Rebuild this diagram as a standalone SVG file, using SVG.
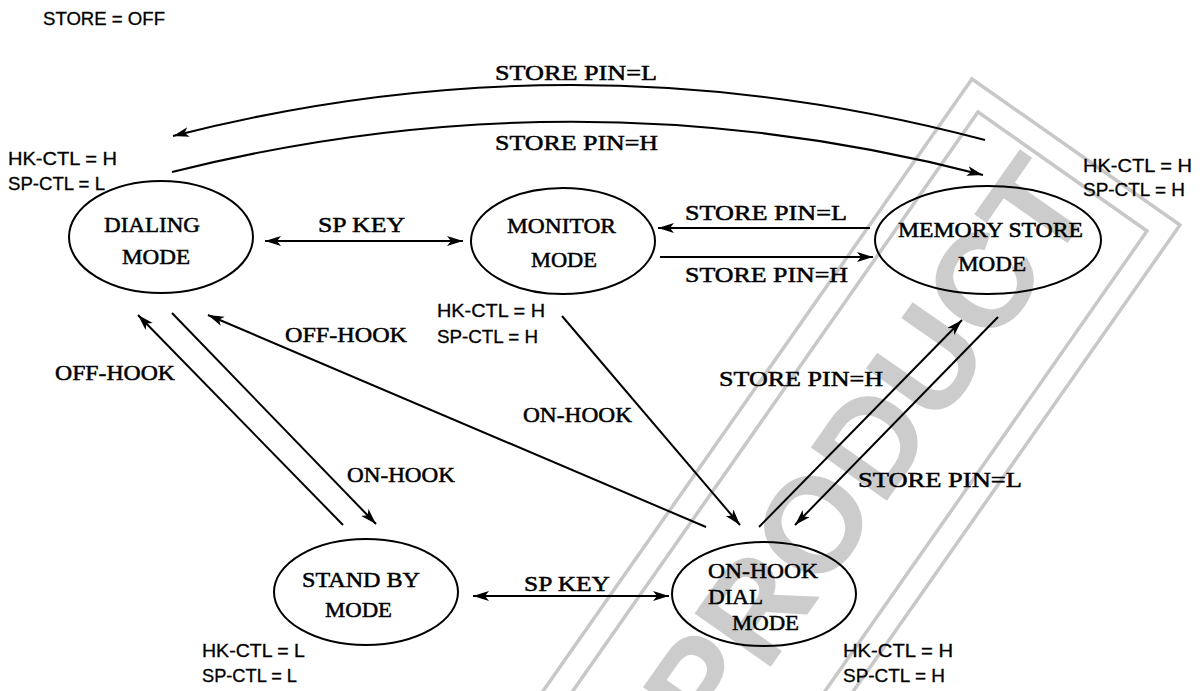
<svg xmlns="http://www.w3.org/2000/svg" width="1203" height="691" viewBox="0 0 1203 691">
<style>
.wm{fill:none;stroke:#c8c8c8;stroke-width:3.5}
.wmt{fill:#cccccc;font-family:"Liberation Sans",Arial,sans-serif;font-weight:bold;font-size:135px}
.node{fill:none;stroke:#000;stroke-width:2}
.nl{font-family:"Liberation Serif","Times New Roman",serif;font-size:22px;fill:#000;stroke:#000;stroke-width:0.5}
.el{font-family:"Liberation Serif","Times New Roman",serif;font-size:22px;fill:#000;stroke:#000;stroke-width:0.5}
.ann{font-family:"Liberation Sans",Arial,sans-serif;font-size:18px;fill:#000;stroke:#000;stroke-width:0.3}
.c{fill:none;stroke:#000;stroke-width:2}
.a{marker-end:url(#ah)}
.b{marker-start:url(#ah);marker-end:url(#ah)}
</style>
<defs>
<marker id="ah" markerUnits="userSpaceOnUse" markerWidth="18" markerHeight="12" refX="16" refY="5" orient="auto-start-reverse">
<path d="M0,0 L16,5 L0,10 L4,5 z" fill="#000"/>
</marker>
</defs>
<rect width="1203" height="691" fill="#fff"/>
<g id="watermark">
<path class="wm" d="M972,79 L1180,225 L606,1044 L398,898 Z"/>
<path class="wm" d="M978,112 L1147,231 L590,1027 L421,908 Z"/>
<g transform="translate(866,447) rotate(-55)"><text class="wmt" x="0" y="48" text-anchor="middle">PRODUCT</text></g>
</g>
<g id="annotations">
<text class="ann" x="43" y="25" textLength="122" lengthAdjust="spacingAndGlyphs">STORE = OFF</text>
<text class="ann" x="8" y="165" textLength="109" lengthAdjust="spacingAndGlyphs">HK-CTL = H</text>
<text class="ann" x="8" y="190" textLength="97" lengthAdjust="spacingAndGlyphs">SP-CTL = L</text>
<text class="ann" x="1083" y="172" textLength="109" lengthAdjust="spacingAndGlyphs">HK-CTL = H</text>
<text class="ann" x="1083" y="196" textLength="102" lengthAdjust="spacingAndGlyphs">SP-CTL = H</text>
<text class="ann" x="437" y="317" textLength="108" lengthAdjust="spacingAndGlyphs">HK-CTL = H</text>
<text class="ann" x="437" y="343" textLength="101" lengthAdjust="spacingAndGlyphs">SP-CTL = H</text>
<text class="ann" x="202" y="657" textLength="103" lengthAdjust="spacingAndGlyphs">HK-CTL = L</text>
<text class="ann" x="202" y="682" textLength="95" lengthAdjust="spacingAndGlyphs">SP-CTL = L</text>
<text class="ann" x="843" y="657" textLength="110" lengthAdjust="spacingAndGlyphs">HK-CTL = H</text>
<text class="ann" x="843" y="682" textLength="102" lengthAdjust="spacingAndGlyphs">SP-CTL = H</text>
</g>
<g id="node-dialing">
<ellipse class="node" cx="161" cy="237" rx="92" ry="56"/>
<text class="nl" x="104" y="232" textLength="96" lengthAdjust="spacingAndGlyphs">DIALING</text>
<text class="nl" x="122" y="264" textLength="68" lengthAdjust="spacingAndGlyphs">MODE</text>
</g>
<g id="node-monitor">
<ellipse class="node" cx="563" cy="241" rx="92" ry="53"/>
<text class="nl" x="507" y="233" textLength="109" lengthAdjust="spacingAndGlyphs">MONITOR</text>
<text class="nl" x="531" y="267" textLength="66" lengthAdjust="spacingAndGlyphs">MODE</text>
</g>
<g id="node-memory">
<ellipse class="node" cx="988" cy="240" rx="113" ry="54"/>
<text class="nl" x="898" y="237" textLength="185" lengthAdjust="spacingAndGlyphs">MEMORY STORE</text>
<text class="nl" x="958" y="271" textLength="68" lengthAdjust="spacingAndGlyphs">MODE</text>
</g>
<g id="node-standby">
<ellipse class="node" cx="366" cy="592" rx="92" ry="53"/>
<text class="nl" x="302" y="587" textLength="118" lengthAdjust="spacingAndGlyphs">STAND BY</text>
<text class="nl" x="325" y="617" textLength="67" lengthAdjust="spacingAndGlyphs">MODE</text>
</g>
<g id="node-onhookdial">
<ellipse class="node" cx="764" cy="594" rx="92" ry="52"/>
<text class="nl" x="708" y="578" textLength="110" lengthAdjust="spacingAndGlyphs">ON-HOOK</text>
<text class="nl" x="708" y="604" textLength="55" lengthAdjust="spacingAndGlyphs">DIAL</text>
<text class="nl" x="732" y="630" textLength="67" lengthAdjust="spacingAndGlyphs">MODE</text>
</g>
<g id="connectors">
<path class="c a" d="M985,140 Q579,32 173,136"/>
<path class="c a" d="M172,172 Q578,70 983,175"/>
<path class="c b" d="M265,241 L463,241"/>
<path class="c a" d="M870,228 L658,228"/>
<path class="c a" d="M660,257 L873,257"/>
<path class="c a" d="M343,525 L138,315"/>
<path class="c a" d="M172,313 L376,524"/>
<path class="c a" d="M706,527 L208,315"/>
<path class="c a" d="M562,316 L740,525"/>
<path class="c a" d="M759,527 L962,320"/>
<path class="c a" d="M998,317 L795,525"/>
<path class="c b" d="M473,596 L669,596"/>
<text class="el" x="495" y="80" textLength="162" lengthAdjust="spacingAndGlyphs">STORE PIN=L</text>
<text class="el" x="495" y="150" textLength="163" lengthAdjust="spacingAndGlyphs">STORE PIN=H</text>
<text class="el" x="318" y="232" textLength="87" lengthAdjust="spacingAndGlyphs">SP KEY</text>
<text class="el" x="685" y="220" textLength="162" lengthAdjust="spacingAndGlyphs">STORE PIN=L</text>
<text class="el" x="685" y="282" textLength="163" lengthAdjust="spacingAndGlyphs">STORE PIN=H</text>
<text class="el" x="285" y="342" textLength="122" lengthAdjust="spacingAndGlyphs">OFF-HOOK</text>
<text class="el" x="55" y="380" textLength="120" lengthAdjust="spacingAndGlyphs">OFF-HOOK</text>
<text class="el" x="523" y="422" textLength="109" lengthAdjust="spacingAndGlyphs">ON-HOOK</text>
<text class="el" x="719" y="386" textLength="164" lengthAdjust="spacingAndGlyphs">STORE PIN=H</text>
<text class="el" x="347" y="482" textLength="108" lengthAdjust="spacingAndGlyphs">ON-HOOK</text>
<text class="el" x="858" y="487" textLength="164" lengthAdjust="spacingAndGlyphs">STORE PIN=L</text>
<text class="el" x="524" y="591" textLength="86" lengthAdjust="spacingAndGlyphs">SP KEY</text>
</g>
</svg>
